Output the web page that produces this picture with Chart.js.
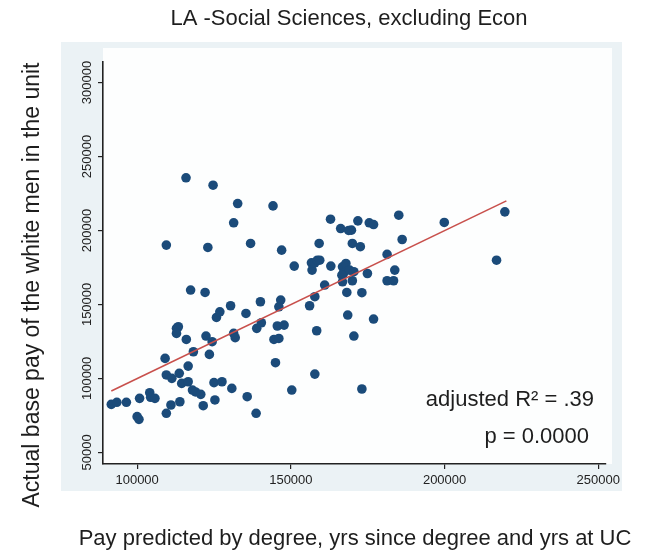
<!DOCTYPE html>
<html>
<head>
<meta charset="utf-8">
<script src="https://cdn.jsdelivr.net/npm/chart.js@4.4.1/dist/chart.umd.min.js"></script>
<style>
  html, body { margin: 0; padding: 0; background: #fff; }
</style>
</head>
<body>
<canvas id="chart" width="657" height="552"></canvas>
<script>
// text
const title = 'LA -Social Sciences, excluding Econ';
const xTitle = 'Pay predicted by degree, yrs since degree and yrs at UC';
const yTitle = 'Actual base pay of the white men in the unit';
const noteLines = ['adjusted R\u00b2 = .39', 'p = 0.0000'];

// axes
const xTicks = [100000, 150000, 200000, 250000];
const yTicks = [50000, 100000, 150000, 200000, 250000, 300000];

// one entry per white man in the unit
const predicted = [
  91600, 93400, 96500, 100800, 100000, 100600, 104100, 104400, 105800, 109100,
  109500, 109500, 109500, 111000, 111300, 112800, 113400, 112800, 113700, 113900,
  114500, 115900, 116000, 116600, 116600, 117400, 118000, 118300, 119000, 120700,
  121500, 122100, 122400, 123000, 123500, 124400, 124700, 125300, 125000, 125800,
  126900, 127600, 130400, 130800, 131400, 131400, 131900, 132700, 135400, 135800,
  136900, 138900, 138700, 140100, 140400, 144200, 144500, 145000, 145600, 146100,
  146700, 146100, 147000, 147800, 150300, 151100, 156100, 156700, 156900, 157800,
  157800, 157800, 158400, 158600, 159200, 159400, 161000, 162900, 163000, 166200,
  166800, 167100, 166800, 167900, 168200, 168500, 169100, 169700, 170000, 170000,
  170500, 170500, 171800, 172600, 173100, 173100, 174900, 175500, 176900, 176900,
  181300, 181300, 183400, 183800, 185100, 186200, 199900, 216900, 219600, 168800,
  166600
];
const actual = [
  82400, 83800, 83800, 86500, 74100, 72300, 90300, 87200, 86500, 113500,
  190100, 102300, 76400, 82000, 100000, 133800, 134900, 130400, 103400, 84200,
  96600, 235600, 126300, 108300, 97700, 159700, 92100, 118000, 90800, 89200,
  81500, 158100, 128600, 188500, 116200, 124800, 230600, 85400, 97100, 141200,
  145000, 97700, 149100, 93200, 205200, 130400, 127500, 218200, 143900, 87600,
  191200, 133800, 76400, 151800, 137600, 216600, 126300, 110600, 135400, 127000,
  152900, 148400, 186700, 136000, 92100, 175900, 149100, 178100, 173200, 178100,
  155200, 102900, 132200, 179900, 191200, 179900, 163100, 207600, 175900, 201300,
  175400, 170900, 165300, 177700, 158100, 142800, 173200, 200200, 191200, 166000,
  128600, 172100, 206500, 189000, 157900, 92800, 170900, 205200, 204000, 140100,
  183800, 166000, 166000, 173200, 210300, 193900, 205400, 179900, 212600, 200000,
  169800
];

// fitted line end points
const fitX = [91600, 220100];
const fitY = [91400, 220000];

const textFont = "'Liberation Sans', Arial, sans-serif";
const tickFont = "'Liberation Sans', Arial, sans-serif";

const backdrop = {
  id: 'backdrop',
  beforeDraw(chart) {
    const { ctx, chartArea: a } = chart;
    ctx.save();
    ctx.fillStyle = '#ffffff';
    ctx.fillRect(0, 0, chart.width, chart.height);
    ctx.fillStyle = '#ebf2f5';
    ctx.fillRect(61, 42, 561, 449);
    ctx.fillStyle = '#fdfefe';
    ctx.fillRect(a.left, a.top - 14, a.right - a.left + 6, a.bottom - a.top + 14);
    ctx.restore();
  },
};

const labels = {
  id: 'labels',
  afterDraw(chart) {
    const { ctx, chartArea: a } = chart;
    ctx.save();
    ctx.fillStyle = '#1e1e1e';
    ctx.font = '22px ' + textFont;
    ctx.textBaseline = 'middle';
    ctx.textAlign = 'center';
    ctx.fillText(title, 349, 19);
    ctx.fillText(xTitle, 355, 539);
    ctx.save();
    ctx.translate(33, 285);
    ctx.rotate(-Math.PI / 2);
    ctx.font = '23px ' + textFont;
    ctx.fillText(yTitle, 0, 0);
    ctx.restore();
    ctx.textAlign = 'right';
    ctx.fillText(noteLines[0], a.right - 12, 400);
    ctx.fillText(noteLines[1], a.right - 17, 437);
    ctx.restore();
  },
};

const points = predicted.map((x, i) => ({ x, y: actual[i] }));
const fitLine = fitX.map((x, i) => ({ x, y: fitY[i] }));

new Chart(document.getElementById('chart'), {
  type: 'scatter',
  data: {
    datasets: [
      {
        // fitted values
        type: 'line',
        order: 0,
        data: fitLine,
        borderColor: '#c8504c',
        borderWidth: 1.6,
        pointRadius: 0,
        fill: false,
      },
      {
        // actual pay
        order: 1,
        data: points,
        backgroundColor: '#1b4b7a',
        borderWidth: 0,
        pointRadius: 4.8,
        pointHoverRadius: 4.8,
      },
    ],
  },
  options: {
    responsive: false,
    devicePixelRatio: 1,
    animation: false,
    layout: { padding: { left: 0, top: 62, right: 51, bottom: 48 } },
    plugins: {
      legend: { display: false },
      title: { display: false },
      tooltip: { enabled: false },
    },
    scales: {
      x: {
        type: 'linear',
        min: 88900,
        max: 252500,
        afterBuildTicks: (s) => {
          s.ticks = xTicks.map((v) => ({ value: v }));
        },
        afterFit: (s) => {
          s.height = 40;
        },
        ticks: {
          color: '#222',
          padding: 4,
          maxRotation: 0,
          font: { family: tickFont, size: 13 },
          callback: (v) => String(v),
        },
        grid: { drawOnChartArea: false, tickLength: 5, color: '#222', lineWidth: 1.2 },
        border: { color: '#222', width: 1.6 },
      },
      y: {
        type: 'linear',
        min: 42100,
        max: 313900,
        afterBuildTicks: (s) => {
          s.ticks = yTicks.map((v) => ({ value: v }));
        },
        afterFit: (s) => {
          s.width = 103;
        },
        ticks: {
          color: '#222',
          minRotation: 90,
          maxRotation: 90,
          crossAlign: 'center',
          padding: -11,
          font: { family: tickFont, size: 13 },
          callback: (v) => String(v),
        },
        grid: { drawOnChartArea: false, tickLength: 5, color: '#222', lineWidth: 1.2 },
        border: { color: '#222', width: 1.6 },
      },
    },
  },
  plugins: [backdrop, labels],
});
</script>
</body>
</html>
